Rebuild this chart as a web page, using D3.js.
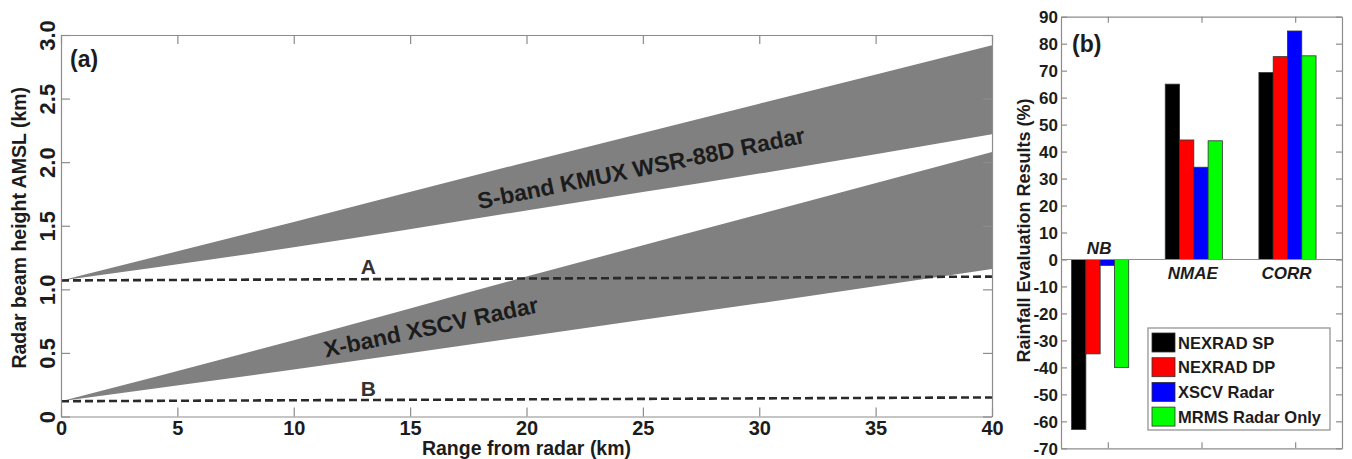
<!DOCTYPE html>
<html>
<head>
<meta charset="utf-8">
<script src="https://cdn.jsdelivr.net/npm/d3@7"></script>
<style>
  body { margin: 0; background: #fff; }
  svg { display: block; font-family: 'Liberation Sans', Arial, sans-serif; font-weight: bold; }
  .frame path, .frame line { stroke: #8c8c8c; stroke-width: 1.2; }
</style>
</head>
<body>
<script>
// ---- panel (a): beam heights ----
const rangeKm     = [0, 10, 20, 30, 40];
const sBandTop    = [1.07, 1.53, 2.00, 2.46, 2.92];
const sBandBottom = [1.07, 1.33, 1.62, 1.91, 2.22];
const xBandTop    = [0.12, 0.60, 1.10, 1.59, 2.08];
const xBandBottom = [0.12, 0.37, 0.63, 0.89, 1.16];

const refRange = [0, 40];
const lineA = [1.07, 1.10];
const lineB = [0.12, 0.15];

const xTicksA = [0, 5, 10, 15, 20, 25, 30, 35, 40];
const yTicksA = [0, 0.5, 1, 1.5, 2, 2.5, 3];
const yTickLabelsA = ['0', '0.5', '1.0', '1.5', '2.0', '2.5', '3.0'];

// ---- panel (b): rainfall evaluation ----
const metrics = ['NB', 'NMAE', 'CORR'];
const products = ['NEXRAD SP', 'NEXRAD DP', 'XSCV Radar', 'MRMS Radar Only'];
const productColors = ['#000000', '#ff0000', '#0000ff', '#00ff00'];
const nexradSP = [-63, 65, 69.3];
const nexradDP = [-35, 44.3, 75.2];
const xscvRadar = [-2.2, 34.2, 84.7];
const mrmsRadar = [-40, 44, 75.5];
const yTicksB = [-70, -60, -50, -40, -30, -20, -10, 0, 10, 20, 30, 40, 50, 60, 70, 80, 90];

const W = 1352, H = 459;
const textColor = '#1c1c1c';

const svg = d3.select('body').append('svg')
  .attr('width', W)
  .attr('height', H);

// ================= panel (a) =================
const a = { left: 61, right: 992, top: 35, bottom: 416.5 };

const xA = d3.scaleLinear().domain([0, 40]).range([a.left, a.right]);
const yA = d3.scaleLinear().domain([0, 3]).range([a.bottom, a.top]);

const beam = (top, bottom) => d3.area()
  .x((d, i) => xA(rangeKm[i]))
  .y0((d, i) => yA(bottom[i]))
  .y1((d, i) => yA(top[i]))
  .curve(d3.curveMonotoneX)(rangeKm);

svg.append('path').attr('d', beam(sBandTop, sBandBottom)).attr('fill', '#808080');
svg.append('path').attr('d', beam(xBandTop, xBandBottom)).attr('fill', '#808080');

const refLine = d3.line()
  .x((d, i) => xA(refRange[i]))
  .y(d => yA(d));

[lineA, lineB].forEach(l => {
  svg.append('path')
    .attr('d', refLine(l))
    .attr('fill', 'none')
    .attr('stroke', '#2a2a2a')
    .attr('stroke-width', 2.6)
    .attr('stroke-dasharray', '8,4');
});

// frame + ticks
svg.append('g').attr('class', 'frame')
  .attr('transform', `translate(0,${a.bottom})`)
  .call(d3.axisBottom(xA).tickValues(xTicksA).tickSize(-9).tickSizeOuter(0).tickFormat(d => d))
  .call(g => g.selectAll('text')
    .attr('y', 18.5).attr('dy', 0)
    .style('font-size', '20px').attr('fill', textColor));
svg.append('g').attr('class', 'frame')
  .attr('transform', `translate(0,${a.top})`)
  .call(d3.axisTop(xA).tickValues(xTicksA).tickSize(-9).tickSizeOuter(0).tickFormat(''));
svg.append('g').attr('class', 'frame')
  .attr('transform', `translate(${a.left},0)`)
  .call(d3.axisLeft(yA).tickValues(yTicksA).tickSize(-9).tickSizeOuter(0)
    .tickFormat((d, i) => yTickLabelsA[i]))
  .call(g => g.selectAll('text')
    .attr('transform', 'rotate(-90)')
    .attr('x', 0).attr('y', -6).attr('dy', 0)
    .attr('text-anchor', 'middle')
    .style('font-size', '22px').attr('fill', textColor));
svg.append('g').attr('class', 'frame')
  .attr('transform', `translate(${a.right},0)`)
  .call(d3.axisRight(yA).tickValues(yTicksA).tickSize(-9).tickSizeOuter(0).tickFormat(''));

svg.selectAll('.frame .domain').attr('fill', 'none');
svg.selectAll('.frame text').attr('font-family', null);

// annotations
svg.append('text')
  .attr('transform', 'translate(641,168) rotate(-11.5)')
  .attr('text-anchor', 'middle').attr('dy', '0.35em')
  .style('font-size', '23px').attr('fill', textColor)
  .text('S-band KMUX WSR-88D Radar');
svg.append('text')
  .attr('transform', 'translate(431,327) rotate(-12)')
  .attr('text-anchor', 'middle').attr('dy', '0.35em')
  .style('font-size', '23px').attr('fill', textColor)
  .text('X-band XSCV Radar');
svg.append('text')
  .attr('x', xA(13.2)).attr('y', yA(lineA[0]) - 6)
  .attr('text-anchor', 'middle')
  .style('font-size', '21px').attr('fill', '#333')
  .text('A');
svg.append('text')
  .attr('x', xA(13.2)).attr('y', yA(lineB[0]) - 5)
  .attr('text-anchor', 'middle')
  .style('font-size', '21px').attr('fill', '#333')
  .text('B');
svg.append('text')
  .attr('x', 70).attr('y', 67)
  .style('font-size', '23px').attr('fill', textColor)
  .text('(a)');

// axis titles
svg.append('text')
  .attr('x', (a.left + a.right) / 2).attr('y', 455)
  .attr('text-anchor', 'middle')
  .style('font-size', '19.5px').attr('fill', textColor)
  .text('Range from radar (km)');
svg.append('text')
  .attr('transform', `translate(26,${(a.top + a.bottom) / 2 + 2}) rotate(-90)`)
  .attr('text-anchor', 'middle')
  .style('font-size', '19.5px').attr('fill', textColor)
  .text('Radar beam height AMSL (km)');

// ================= panel (b) =================
const b = { left: 1061, right: 1342, top: 16.7, bottom: 448.3 };

const xB = d3.scaleLinear().domain([0.5, 3.5]).range([b.left, b.right]);
const yB = d3.scaleLinear().domain([-70, 90]).range([b.bottom, b.top]);

const series = [nexradSP, nexradDP, xscvRadar, mrmsRadar];
const groupOffset = -0.082;
const groupWidth = xB(0.61) - xB(0);
const inner = d3.scaleBand().domain(products).range([-groupWidth / 2, groupWidth / 2]);

const barTable = metrics.flatMap((m, i) => products.map((p, j) => ({
  metric: m, i, product: p, j, value: series[j][i]
})));

svg.append('g').selectAll('rect')
  .data(barTable)
  .enter().append('rect')
  .attr('x', d => xB(d.i + 1 + groupOffset) + inner(d.product))
  .attr('width', inner.bandwidth())
  .attr('y', d => yB(Math.max(0, d.value)))
  .attr('height', d => Math.abs(yB(d.value) - yB(0)))
  .attr('fill', d => productColors[d.j])
  .attr('stroke', '#333')
  .attr('stroke-width', 0.8);

// zero line
svg.append('line')
  .attr('x1', b.left).attr('x2', b.right)
  .attr('y1', yB(0)).attr('y2', yB(0))
  .attr('stroke', '#8c8c8c').attr('stroke-width', 1.2);

// frame
svg.append('g').attr('class', 'frame')
  .attr('transform', `translate(0,${b.bottom})`)
  .call(d3.axisBottom(xB).tickValues([1, 2, 3]).tickSize(-6).tickSizeOuter(0).tickFormat(''));
svg.append('g').attr('class', 'frame')
  .attr('transform', `translate(0,${b.top})`)
  .call(d3.axisTop(xB).tickValues([1, 2, 3]).tickSize(-6).tickSizeOuter(0).tickFormat(''));
svg.append('g').attr('class', 'frame')
  .attr('transform', `translate(${b.left},0)`)
  .call(d3.axisLeft(yB).tickValues(yTicksB).tickSize(-6).tickSizeOuter(0).tickFormat(d => d))
  .call(g => g.selectAll('text')
    .attr('x', -3).attr('dy', '0.36em')
    .style('font-size', '17px').attr('fill', textColor));
svg.append('g').attr('class', 'frame')
  .attr('transform', `translate(${b.right},0)`)
  .call(d3.axisRight(yB).tickValues(yTicksB).tickSize(-6).tickSizeOuter(0).tickFormat(''));

svg.selectAll('.frame .domain').attr('fill', 'none');
svg.selectAll('.frame text').attr('font-family', null);

// metric labels
svg.append('g').selectAll('text')
  .data(metrics)
  .enter().append('text')
  .attr('x', (d, i) => xB(i + 1 + groupOffset) - 1)
  .attr('y', (d, i) => nexradSP[i] < 0 ? yB(0) - 5 : yB(0) + 20)
  .attr('text-anchor', 'middle')
  .style('font-size', '17px').style('font-style', 'italic')
  .attr('fill', textColor)
  .text(d => d);

svg.append('text')
  .attr('x', 1072).attr('y', 52)
  .style('font-size', '23px').attr('fill', textColor)
  .text('(b)');

svg.append('text')
  .attr('transform', `translate(1030,${(b.top + b.bottom) / 2 - 2}) rotate(-90)`)
  .attr('text-anchor', 'middle')
  .style('font-size', '18px').attr('fill', textColor)
  .text('Rainfall Evaluation Results (%)');

// legend
const legend = svg.append('g').attr('transform', 'translate(1148,328)');
legend.append('rect')
  .attr('width', 182).attr('height', 102)
  .attr('fill', '#fff').attr('stroke', '#8c8c8c').attr('stroke-width', 1.2);
const item = legend.selectAll('.item')
  .data(products)
  .enter().append('g')
  .attr('class', 'item')
  .attr('transform', (d, i) => `translate(4,${5 + i * 24.7})`);
item.append('rect')
  .attr('width', 23).attr('height', 19)
  .attr('fill', (d, i) => productColors[i])
  .attr('stroke', '#333').attr('stroke-width', 0.8);
item.append('text')
  .attr('x', 26).attr('y', 15.5)
  .style('font-size', '16.5px').attr('fill', textColor)
  .text(d => d);
</script>
</body>
</html>
